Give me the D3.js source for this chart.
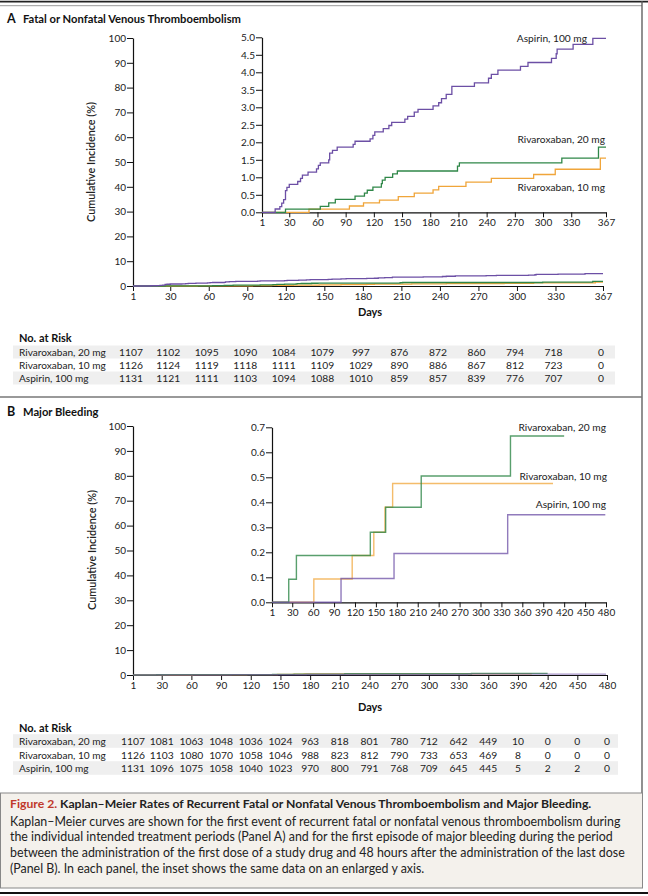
<!DOCTYPE html>
<html><head><meta charset="utf-8">
<script src="https://cdn.jsdelivr.net/npm/d3@7/dist/d3.min.js"></script>
<style>
body{margin:0;background:#fff;}
svg{display:block;font-family:Lato,"Open Sans",sans-serif;}
</style></head>
<body>
<svg id="chart" width="648" height="896"></svg>
<script>
// ---------- DATA ----------
const ticksA = [1,30,60,90,120,150,180,210,240,270,300,330,367];
const ticksB = [1,30,60,90,120,150,180,210,240,270,300,330,360,390,420,450,480];
const mainYTicks = [0,10,20,30,40,50,60,70,80,90,100];
const insetYTicksA = [0,0.5,1,1.5,2,2.5,3,3.5,4,4.5,5];
const insetYTicksB = [0,0.1,0.2,0.3,0.4,0.5,0.6,0.7];
const seriesNames = ["Rivaroxaban, 20 mg","Rivaroxaban, 10 mg","Aspirin, 100 mg"];

// Panel A: [day, cumulative incidence %]
const aspirinA = [[1,0],[15,0.095],[20,0.16],[22,0.26],[24,0.36],[26,0.62],[27.5,0.71],[30,0.8],[39,0.88],[42,0.97],[44,1.06],[50,1.15],[59,1.24],[61,1.34],[63,1.41],[72,1.5],[73,1.69],[76,1.77],[81,1.86],[98,1.94],[100,2.03],[116,2.1],[119,2.2],[121,2.3],[130,2.39],[136,2.48],[139,2.57],[153,2.66],[156,2.74],[163,2.86],[167,2.94],[183,3.04],[189,3.13],[192,3.25],[197,3.37],[203,3.6],[227,3.7],[242,3.83],[245,3.94],[252,4.06],[276,4.17],[284,4.28],[309,4.4],[314,4.53],[315,4.66],[332,4.8],[353,4.97],[367,4.97]];
const riva20A = [[1,0],[26,0.09],[63,0.17],[72,0.27],[79,0.37],[100,0.46],[110,0.55],[113,0.63],[119,0.72],[128,0.82],[129,0.92],[132,1.0],[140,1.1],[145,1.18],[209,1.32],[211,1.41],[320,1.55],[359,1.86],[367,1.86]];
const riva10A = [[1,0],[51,0.09],[94,0.18],[109,0.27],[126,0.35],[146,0.45],[163,0.55],[183,0.64],[189,0.74],[218,0.86],[245,0.97],[290,1.08],[313,1.23],[361,1.55],[367,1.55]];
const riskA = [
  [1107,1102,1095,1090,1084,1079,997,876,872,860,794,718,0],
  [1126,1124,1119,1118,1111,1109,1029,890,886,867,812,723,0],
  [1131,1121,1111,1103,1094,1088,1010,859,857,839,776,707,0]
];

// Panel B
const riva20B = [[1,0],[25,0.092],[36,0.187],[142,0.28],[164,0.38],[215,0.505],[343,0.665],[420,0.665]];
const riva10B = [[1,0],[61,0.093],[116,0.187],[147,0.28],[163,0.38],[174,0.475],[404,0.475]];
const aspirinB = [[1,0],[100,0.095],[176,0.195],[339,0.35],[479,0.35]];
const riskB = [
  [1107,1081,1063,1048,1036,1024,963,818,801,780,712,642,449,10,0,0,0],
  [1126,1103,1080,1070,1058,1046,988,823,812,790,733,653,469,8,0,0,0],
  [1131,1096,1075,1058,1040,1023,970,800,791,768,709,645,445,5,2,2,0]
];

// ---------- STYLE ----------
const colors = {r20:"#2f8748", r10:"#f0a53a", asp:"#6c4fa5"};
const svg = d3.select("#chart");
const tickFont = 10;

// frame lines
svg.append("line").attr("x1",0).attr("x2",648).attr("y1",1.7).attr("y2",1.7).attr("stroke","#222").attr("stroke-width",1.8);
svg.append("line").attr("x1",0).attr("x2",642).attr("y1",5.7).attr("y2",5.7).attr("stroke","#999").attr("stroke-width",1);
svg.append("line").attr("x1",642).attr("x2",642).attr("y1",1).attr("y2",793).attr("stroke","#555").attr("stroke-width",1.3);
svg.append("line").attr("x1",0).attr("x2",642).attr("y1",397).attr("y2",397).attr("stroke","#777").attr("stroke-width",1.3);

function panelTitle(letter, title, y){
  svg.append("text").attr("x",7).attr("y",y).attr("font-size",12.5).attr("font-weight",700).attr("fill","#111").text(letter);
  svg.append("text").attr("x",23).attr("y",y).attr("font-size",11.2).attr("font-weight",700).attr("fill","#111").text(title);
}

function styleAxis(g){
  g.select(".domain").attr("stroke","#111").attr("stroke-width",1.2);
  g.selectAll(".tick line").attr("stroke","#111").attr("stroke-width",1);
  g.selectAll(".tick text").attr("font-size",tickFont).attr("fill","#222").attr("font-family","Lato, sans-serif");
}

function drawSteps(g, x, y, pts, color, opacity, width){
  const line = d3.line().x(d=>x(d[0])).y(d=>y(d[1])).curve(d3.curveStepAfter);
  g.append("path").datum(pts).attr("d",line).attr("fill","none")
   .attr("stroke",color).attr("stroke-width",width||1.3).attr("stroke-opacity",opacity||1);
}

function axes(xS, yS, xTicks, yTicks, yFmt){
  const gx = svg.append("g").attr("transform",`translate(0,${yS.range()[0]})`)
    .call(d3.axisBottom(xS).tickValues(xTicks).tickSize(5).tickSizeOuter(0).tickPadding(2).tickFormat(d3.format("d")));
  styleAxis(gx);
  const gy = svg.append("g").attr("transform",`translate(${xS.range()[0]},0)`)
    .call(d3.axisLeft(yS).tickValues(yTicks).tickSize(6).tickSizeOuter(0).tickPadding(1).tickFormat(yFmt));
  styleAxis(gy);
}

function riskTable(data, xS, ticks, yTitle, rowYs, bandRight, rowH, dx){
  svg.append("text").attr("x",19).attr("y",yTitle).attr("font-size",11).attr("font-weight",700).attr("fill","#111").text("No. at Risk");
  rowYs.forEach((cy,i)=>{
    if(i!==1) svg.append("rect").attr("x",13).attr("y",cy-rowH/2).attr("width",bandRight-13).attr("height",rowH).attr("fill","#efefef");
    svg.append("text").attr("x",19).attr("y",cy+3.7).attr("font-size",10.1).attr("fill","#222").text(seriesNames[i]);
    svg.append("g").selectAll("text").data(data[i]).join("text")
      .attr("x",(d,j)=>xS(ticks[j])+dx).attr("y",cy+3.7).attr("text-anchor","middle")
      .attr("font-size",10.3).attr("fill","#222").text(d=>d);
  });
}

// ---------- PANEL A ----------
panelTitle("A","Fatal or Nonfatal Venous Thromboembolism",23);
const xA = d3.scaleLinear().domain([1,367]).range([133,603]);
const yA = d3.scaleLinear().domain([0,100]).range([286,38]);
axes(xA,yA,ticksA,mainYTicks,d3.format("d"));
const gA = svg.append("g");
drawSteps(gA,xA,yA,riva10A,colors.r10);
drawSteps(gA,xA,yA,riva20A,colors.r20);
drawSteps(gA,xA,yA,aspirinA,colors.asp);
svg.append("text").attr("transform",`translate(95,162) rotate(-90)`).attr("text-anchor","middle").attr("font-size",10.8).attr("font-weight",600).attr("fill","#222").text("Cumulative Incidence (%)");
svg.append("text").attr("x",370).attr("y",316).attr("text-anchor","middle").attr("font-size",11).attr("font-weight",700).attr("fill","#111").text("Days");

const xAi = d3.scaleLinear().domain([1,367]).range([262,606]);
const yAi = d3.scaleLinear().domain([0,5]).range([212.3,37.3]);
axes(xAi,yAi,ticksA,insetYTicksA,d3.format(".1f"));
const gAi = svg.append("g");
drawSteps(gAi,xAi,yAi,riva10A,colors.r10);
drawSteps(gAi,xAi,yAi,riva20A,colors.r20);
drawSteps(gAi,xAi,yAi,aspirinA,colors.asp);
svg.append("text").attr("x",587).attr("y",42).attr("text-anchor","end").attr("font-size",10.2).attr("fill","#222").text(seriesNames[2]);
svg.append("text").attr("x",605).attr("y",143).attr("text-anchor","end").attr("font-size",10.2).attr("fill","#222").text(seriesNames[0]);
svg.append("text").attr("x",605).attr("y",191).attr("text-anchor","end").attr("font-size",10.2).attr("fill","#222").text(seriesNames[1]);

riskTable(riskA, xA, ticksA, 342, [352,365,378], 615, 13, -2);

// ---------- PANEL B ----------
panelTitle("B","Major Bleeding",416);
const xB = d3.scaleLinear().domain([1,480]).range([133,607]);
const yB = d3.scaleLinear().domain([0,100]).range([675,426]);
axes(xB,yB,ticksB,mainYTicks,d3.format("d"));
const gB = svg.append("g");
drawSteps(gB,xB,yB,riva10B,colors.r10,0.8);
drawSteps(gB,xB,yB,riva20B,colors.r20,0.8);
drawSteps(gB,xB,yB,aspirinB,colors.asp,0.6);
svg.append("text").attr("transform",`translate(96,550) rotate(-90)`).attr("text-anchor","middle").attr("font-size",10.8).attr("font-weight",600).attr("fill","#222").text("Cumulative Incidence (%)");
svg.append("text").attr("x",370).attr("y",711).attr("text-anchor","middle").attr("font-size",11).attr("font-weight",700).attr("fill","#111").text("Days");

const xBi = d3.scaleLinear().domain([1,480]).range([272,606]);
const yBi = d3.scaleLinear().domain([0,0.7]).range([602.3,427.3]);
axes(xBi,yBi,ticksB,insetYTicksB,d3.format(".1f"));
const gBi = svg.append("g");
drawSteps(gBi,xBi,yBi,riva10B,colors.r10,0.75,1.4);
drawSteps(gBi,xBi,yBi,riva20B,colors.r20,0.8,1.4);
drawSteps(gBi,xBi,yBi,aspirinB,colors.asp,0.75,1.4);
svg.append("text").attr("x",606).attr("y",431).attr("text-anchor","end").attr("font-size",10.2).attr("fill","#222").text(seriesNames[0]);
svg.append("text").attr("x",607).attr("y",480).attr("text-anchor","end").attr("font-size",10.2).attr("fill","#222").text(seriesNames[1]);
svg.append("text").attr("x",606).attr("y",508).attr("text-anchor","end").attr("font-size",10.2).attr("fill","#222").text(seriesNames[2]);

riskTable(riskB, xB, ticksB, 732, [741,755,768], 618, 13.6, 0);

// ---------- CAPTION ----------
svg.append("rect").attr("x",0.5).attr("y",793).attr("width",642).attr("height",95).attr("fill","#f4f1ec").attr("stroke","#888").attr("stroke-width",1);
svg.append("line").attr("x1",0).attr("x2",648).attr("y1",893).attr("y2",893).attr("stroke","#111").attr("stroke-width",2);
const cap = svg.append("text").attr("x",10).attr("y",808).attr("font-size",12.2).attr("fill","#222");
cap.append("tspan").attr("fill","#c0392b").attr("font-weight",700).text("Figure 2. ");
cap.append("tspan").attr("font-weight",700).text("Kaplan\u2013Meier Rates of Recurrent Fatal or Nonfatal Venous Thromboembolism and Major Bleeding.");
const capLines = [
 "Kaplan\u2013Meier curves are shown for the first event of recurrent fatal or nonfatal venous thromboembolism during",
 "the individual intended treatment periods (Panel A) and for the first episode of major bleeding during the period",
 "between the administration of the first dose of a study drug and 48 hours after the administration of the last dose",
 "(Panel B). In each panel, the inset shows the same data on an enlarged y axis."
];
capLines.forEach((t,i)=>{
  svg.append("text").attr("x",10).attr("y",825.5+i*15.8).attr("font-size",12.4).attr("fill","#222").text(t);
});
</script>
</body></html>
